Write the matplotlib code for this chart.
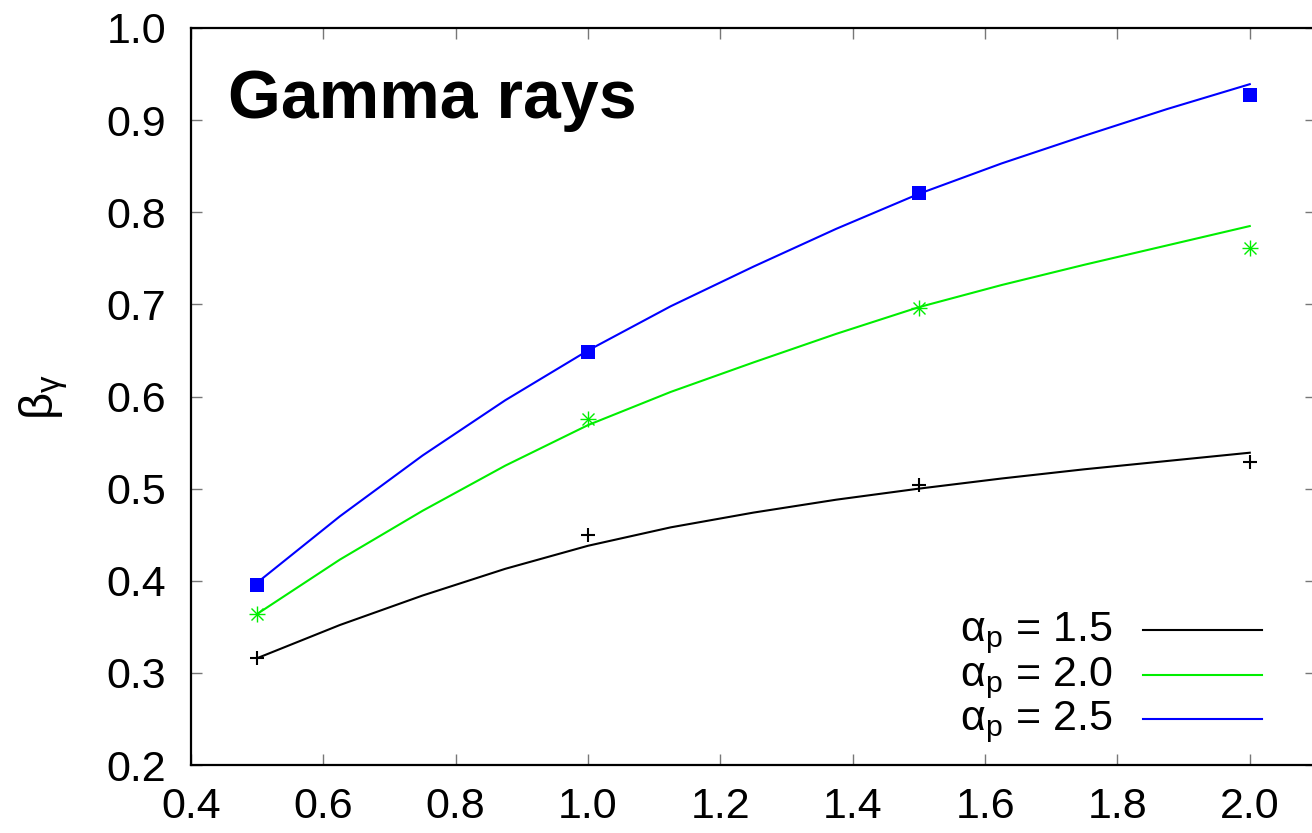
import matplotlib
matplotlib.use("Agg")
import matplotlib.pyplot as plt

plt.rcParams["font.family"] = ["Liberation Sans", "DejaVu Sans"]
plt.rcParams["mathtext.fontset"] = "custom"
plt.rcParams["mathtext.rm"] = "Liberation Sans"
plt.rcParams["mathtext.it"] = "Liberation Sans:italic"

# measured points
x_pts = [0.5, 1.0, 1.5, 2.0]
y_15 = [0.316, 0.450, 0.504, 0.529]
y_20 = [0.364, 0.576, 0.696, 0.761]
y_25 = [0.395, 0.648, 0.821, 0.927]

# fitted curves
x_fit = [0.5, 0.625, 0.75, 0.875, 1.0, 1.125, 1.25, 1.375, 1.5, 1.625, 1.75, 1.875, 2.0]
fit_15 = [0.316, 0.352, 0.384, 0.413, 0.438, 0.458, 0.474, 0.488, 0.500, 0.511, 0.521, 0.530, 0.539]
fit_20 = [0.364, 0.423, 0.476, 0.525, 0.569, 0.605, 0.637, 0.668, 0.697, 0.721, 0.743, 0.764, 0.785]
fit_25 = [0.398, 0.470, 0.536, 0.596, 0.650, 0.698, 0.741, 0.782, 0.820, 0.853, 0.883, 0.912, 0.939]

labels = [r"$\mathrm{\alpha_p}$ = 1.5", r"$\mathrm{\alpha_p}$ = 2.0", r"$\mathrm{\alpha_p}$ = 2.5"]
colors = ["black", "#00ee00", "blue"]

fig = plt.figure(figsize=(13.12, 8.33), dpi=100)
ax = fig.add_axes([0.1456, 0.0816, 0.8574, 0.8848])

fits = [fit_15, fit_20, fit_25]
for fit, c in zip(fits, colors):
    ax.plot(x_fit, fit, color=c, lw=1.5, zorder=3)

ax.plot(x_pts, y_15, ls="none", marker="+", ms=10, mew=1.5, color="black", zorder=4)
ax.plot(x_pts, y_20, ls="none", marker="+", ms=11, mew=1.0, color="#00ee00", zorder=4)
ax.plot(x_pts, y_20, ls="none", marker="x", ms=8, mew=1.0, color="#00ee00", zorder=4)
ax.plot(x_pts, y_25, ls="none", marker="s", ms=9.5, mew=0, color="blue", zorder=4)

ax.set_xlim(0.4, 2.1)
ax.set_ylim(0.2, 1.0)
ax.set_xticks([0.4, 0.6, 0.8, 1.0, 1.2, 1.4, 1.6, 1.8, 2.0])
ax.set_yticks([0.2, 0.3, 0.4, 0.5, 0.6, 0.7, 0.8, 0.9, 1.0])
ax.xaxis.set_major_formatter(matplotlib.ticker.FormatStrFormatter("%.1f"))
ax.yaxis.set_major_formatter(matplotlib.ticker.FormatStrFormatter("%.1f"))
ax.tick_params(direction="in", length=8, width=1, color="#777777",
               top=True, right=True, labelsize=31)
ax.tick_params(axis="y", pad=18)
ax.tick_params(axis="x", pad=16)
for s in ax.spines.values():
    s.set_linewidth(1.6)

ax.set_ylabel(r"$\mathrm{\beta_\gamma}$", fontsize=34)
ax.yaxis.set_label_coords(-0.108, 0.5)

ax.text(0.033, 0.878, "Gamma rays", transform=ax.transAxes, fontsize=49,
        fontweight="bold", va="baseline", ha="left")

# key, gnuplot style: label then line sample
rows = [0.1682, 0.1072, 0.0475]
for lab, c, yr in zip(labels, colors, rows):
    ax.text(0.819, yr, lab, transform=ax.transAxes, fontsize=31,
            ha="right", va="baseline")
    ax.plot([0.8462, 0.952], [yr + 0.0149, yr + 0.0149], color=c, lw=1.5,
            transform=ax.transAxes, clip_on=False)

fig.savefig("out.png", dpi=100)
